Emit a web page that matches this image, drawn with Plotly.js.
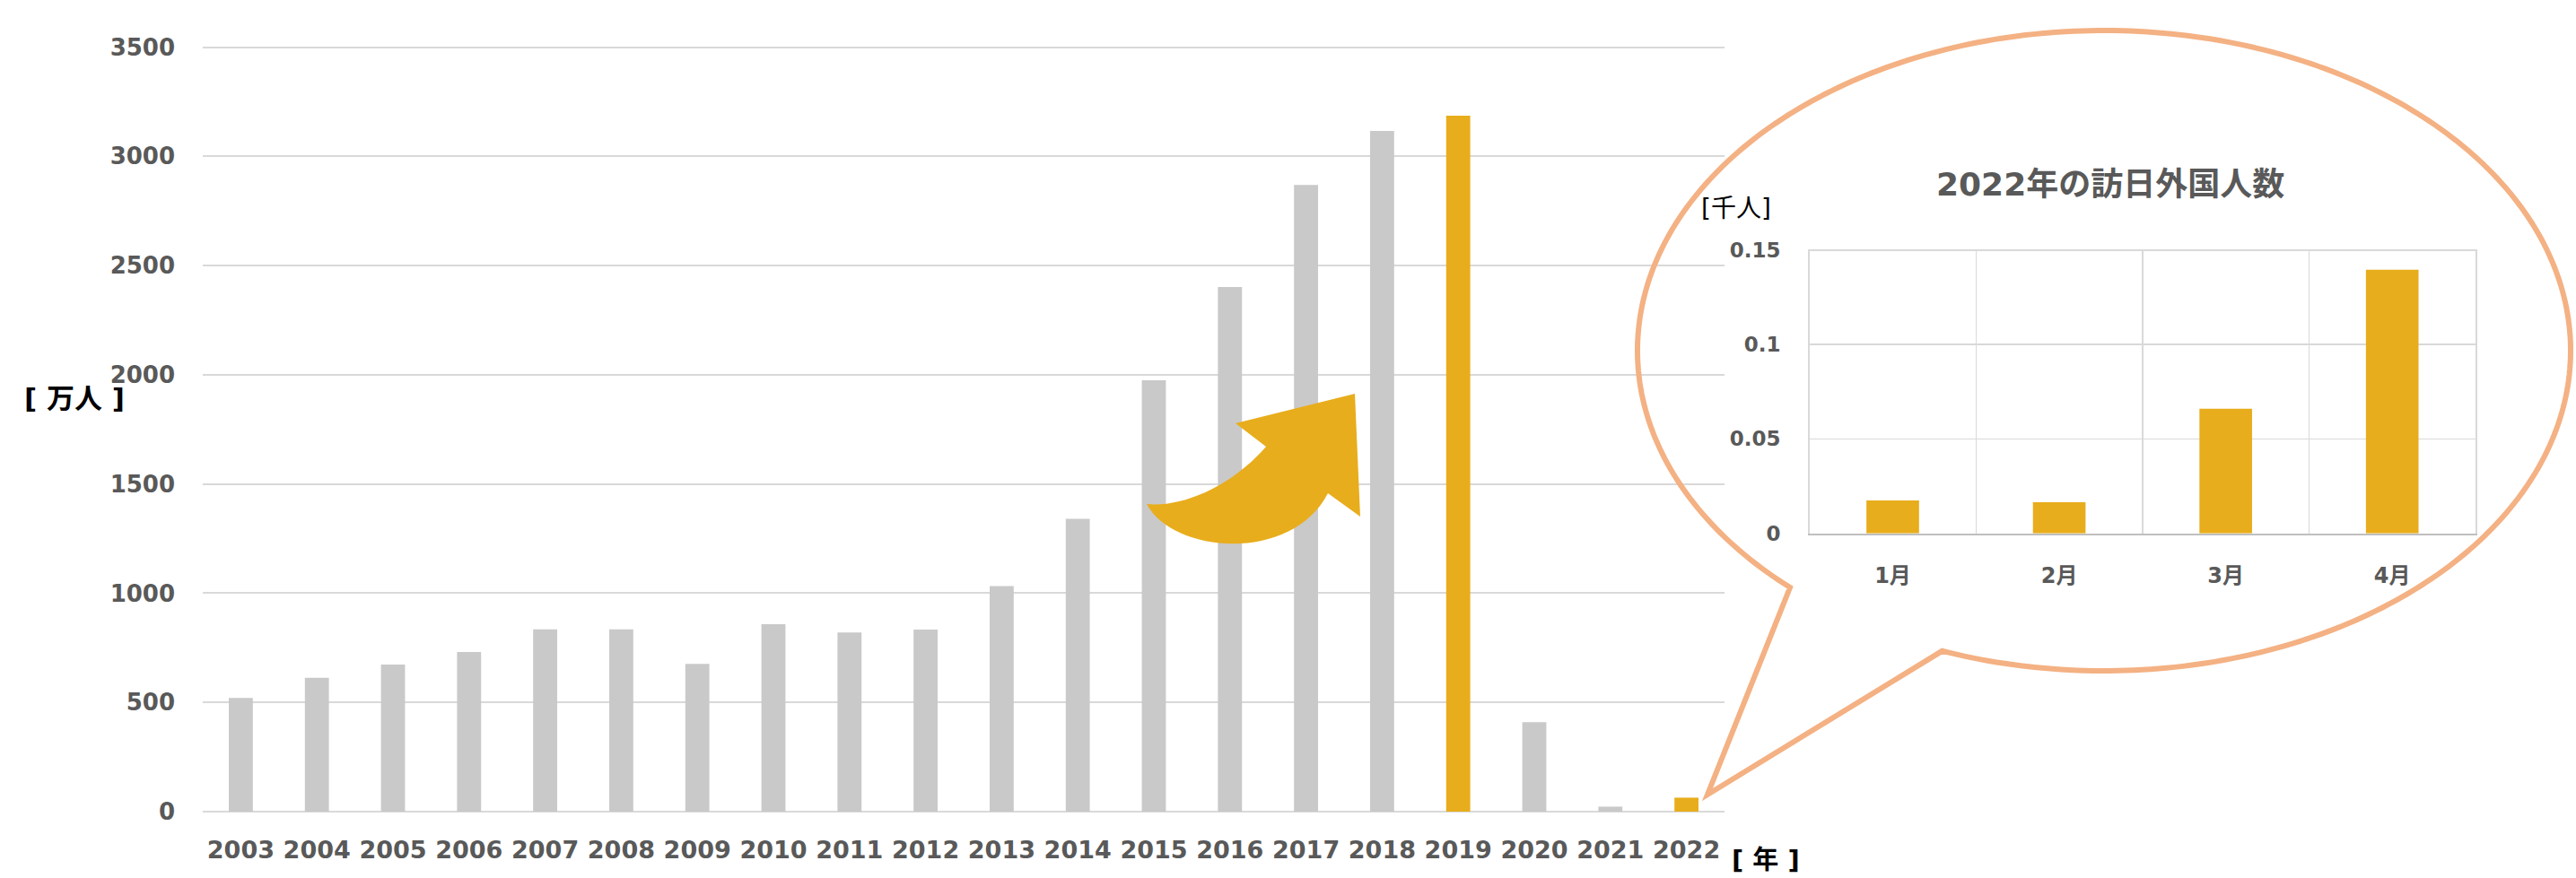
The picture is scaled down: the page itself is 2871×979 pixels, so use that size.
<!DOCTYPE html>
<html>
<head>
<meta charset="utf-8">
<script src="https://cdn.plot.ly/plotly-3.0.1.min.js"></script>
<style>html,body{margin:0;padding:0;background:#fff;}#chart{width:2871px;height:979px;}</style>
</head>
<body>
<div id="chart"></div>
<script>
// ---- data ----
const years = ['2003','2004','2005','2006','2007','2008','2009','2010','2011','2012','2013','2014','2015','2016','2017','2018','2019','2020','2021','2022'];
const visitors = [520, 613, 673, 731, 834, 834, 676, 858, 820, 833, 1033, 1340, 1975, 2402, 2869, 3116, 3186, 410, 23, 64];
const highlightYears = ['2019', '2022'];
const months = ['1月', '2月', '3月', '4月'];
const monthly2022 = [0.0174, 0.0165, 0.066, 0.1395];
const mainYTicks = [0, 500, 1000, 1500, 2000, 2500, 3000, 3500];
const insetYTicks = [0, 0.05, 0.1, 0.15];

// ---- style ----
const W = 2871, H = 979;
const GOLD = '#E8AD1C', GRAY = '#C9C9C9', GRID = '#D9D9D9', TXT = '#595959';
const FONT = 'DejaVu Sans, Noto Sans CJK JP, sans-serif';
const px = v => v / W;
const py = v => 1 - v / H;

const barColors = years.map(y => highlightYears.includes(y) ? GOLD : GRAY);

const traces = [
  {type: 'bar', x: years, y: visitors, marker: {color: barColors, line: {width: 0}},
   xaxis: 'x', yaxis: 'y', hoverinfo: 'skip', showlegend: false},
  {type: 'bar', x: months, y: monthly2022, marker: {color: GOLD, line: {width: 0}},
   xaxis: 'x2', yaxis: 'y2', hoverinfo: 'skip', showlegend: false}
];

// callout ellipse with tail (geometry in pixels -> paper)
const cx = 2345, cy = 391, rx = 520, ry = 357;
const a0 = 132.3, a1 = 470.3;
let pts = [];
for (let a = a0; a <= a1 + 1e-6; a += 1) {
  const r = a * Math.PI / 180;
  pts.push([cx + rx * Math.cos(r), cy + ry * Math.sin(r)]);
}
const tip = [1903, 886];
let calloutPath = 'M ' + pts.map(p => px(p[0]).toFixed(5) + ',' + py(p[1]).toFixed(5)).join(' L ')
  + ' L ' + px(tip[0]).toFixed(5) + ',' + py(tip[1]).toFixed(5) + ' Z';

// curved arrow
function P(x, y) { return px(x).toFixed(5) + ',' + py(y).toFixed(5); }
const arrowPath = 'M ' + P(1510, 439) + ' L ' + P(1377, 472) + ' L ' + P(1411, 498)
  + ' C ' + P(1370, 545) + ' ' + P(1315, 566) + ' ' + P(1278, 562)
  + ' C ' + P(1308, 618) + ' ' + P(1440, 628) + ' ' + P(1480, 550)
  + ' L ' + P(1516, 576) + ' Z';

// main y range extended a little above 3500 so its gridline is drawn
const yTop = 3530;
const pxPerUnit = (905 - 52.5) / 3500;

const layout = {
  width: W, height: H,
  margin: {l: 0, r: 0, t: 0, b: 0, pad: 0},
  paper_bgcolor: '#ffffff', plot_bgcolor: 'rgba(0,0,0,0)',
  bargap: 0.684,
  xaxis: {
    domain: [px(226), px(1922)], type: 'category', showgrid: false, zeroline: false,
    showline: false, ticks: '', ticklabelstandoff: 24,
    tickfont: {family: FONT, size: 27, color: TXT, weight: 'bold'}
  },
  yaxis: {
    domain: [py(905), py(905 - yTop * pxPerUnit)], range: [0, yTop], tickvals: mainYTicks,
    showgrid: true, gridcolor: GRID, gridwidth: 2, zeroline: true, zerolinecolor: GRID, zerolinewidth: 2,
    showline: false, ticks: '', ticklabelstandoff: 30,
    tickfont: {family: FONT, size: 26, color: TXT, weight: 'bold'}
  },
  xaxis2: {
    domain: [px(2016.7), px(2759)], anchor: 'y2', type: 'category', tickson: 'boundaries',
    showgrid: true, gridcolor: GRID, gridwidth: 1.5, zeroline: false,
    showline: true, linecolor: '#BFBFBF', linewidth: 2, ticks: '', ticklabelstandoff: 24,
    tickfont: {family: FONT, size: 24, color: TXT, weight: 'bold'}
  },
  yaxis2: {
    domain: [py(594.7), py(277.7)], anchor: 'x2', range: [0, 0.1505], tickvals: insetYTicks,
    showgrid: true, gridcolor: GRID, gridwidth: 1.5, zeroline: false,
    showline: true, mirror: true, linecolor: GRID, linewidth: 1.5, ticks: '', ticklabelstandoff: 26,
    tickfont: {family: FONT, size: 23, color: TXT, weight: 'bold'}
  },
  annotations: [
    {text: '[ 万人 ]', xref: 'paper', yref: 'paper', x: px(82.5), y: py(444), xanchor: 'center', yanchor: 'middle',
     showarrow: false, font: {family: FONT, size: 31, color: '#000000', weight: 'bold'}},
    {text: '[ 年 ]', xref: 'paper', yref: 'paper', x: px(1968), y: py(959), xanchor: 'center', yanchor: 'middle',
     showarrow: false, font: {family: FONT, size: 29, color: '#000000', weight: 'bold'}},
    {text: '[千人]', xref: 'paper', yref: 'paper', x: px(1935), y: py(233), xanchor: 'center', yanchor: 'middle',
     showarrow: false, font: {family: FONT, size: 28, color: '#000000'}},
    {text: '2022年の訪日外国人数', xref: 'paper', yref: 'paper', x: px(2352), y: py(206), xanchor: 'center', yanchor: 'middle',
     showarrow: false, font: {family: FONT, size: 36, color: TXT, weight: 'bold'}}
  ],
  shapes: [
    {type: 'path', xref: 'paper', yref: 'paper', path: arrowPath, fillcolor: GOLD, line: {width: 0}, layer: 'above'},
    {type: 'path', xref: 'paper', yref: 'paper', path: calloutPath, fillcolor: 'rgba(0,0,0,0)',
     line: {color: '#F4B183', width: 6}, layer: 'above'}
  ]
};

Plotly.newPlot('chart', traces, layout, {displayModeBar: false, staticPlot: true});
</script>
</body>
</html>
